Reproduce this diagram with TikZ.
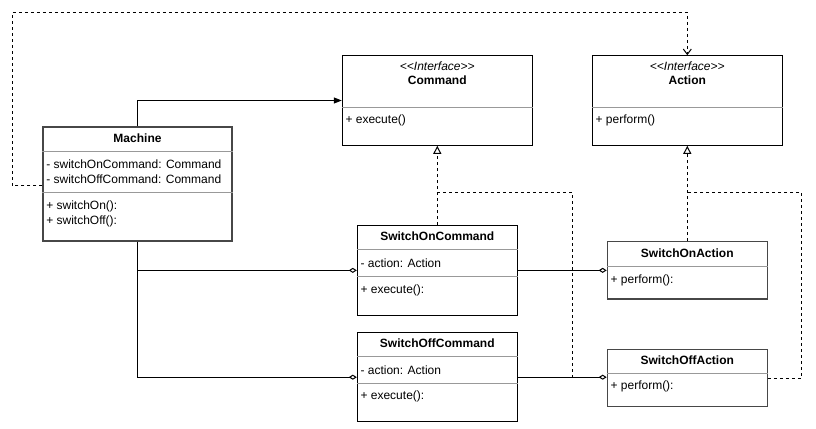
\documentclass[tikz,border=0pt]{standalone}
\usepackage{fontspec}
\setmainfont{Liberation Sans}
\usetikzlibrary{arrows.meta,fit}
\begin{document}
\begin{tikzpicture}[x=0.75pt,y=-0.75pt,
  box/.style={draw=black, line width=0.75pt, inner sep=0pt, fill=white},
  boxg/.style={draw=black!72, line width=0.95pt, inner sep=0pt, fill=white},
  div/.style={draw=black!40, line width=0.6pt},
  t/.style={font=\fontsize{9}{10}\selectfont, inner sep=0pt, anchor=west},
  tt/.style={font=\fontsize{9}{10}\selectfont\bfseries, inner sep=0pt},
  ti/.style={font=\fontsize{9}{10}\selectfont\itshape, inner sep=0pt},
  con/.style={line width=0.75pt},
  dep/.style={line width=0.75pt, dash pattern=on 2.25pt off 2.25pt},
  agg/.style={con, -{Diamond[open, length=6pt, width=3.8pt]}},
  inh/.style={dep, -{Triangle[open, length=6pt, width=6pt]}},
  use/.style={dep, -{Straight Barb[length=4pt, width=6pt]}},
  assoc/.style={con, -{Triangle[length=6pt, width=4.5pt]}}
]
\fill[white] (0,0) rectangle (816,428);
\useasboundingbox (0,0) rectangle (816,428);

% boxes
\node[boxg, fit={(43,127) (232,241)}] (machine) {};
\node[box, fit={(342.3,55.7) (532.3,145.3)}] (command) {};
\node[box, fit={(592.3,55.7) (782.3,145.3)}] (action) {};
\node[box, fit={(357.3,225.7) (517.3,315)}] (soncmd) {};
\node[box, fit={(357.3,332.7) (517.3,421.7)}] (soffcmd) {};
\node[boxg, fit={(607.3,241.7) (767.3,299)}] (sonact) {};
\node[boxg, fit={(607.3,349.3) (767.3,406.7)}] (soffact) {};

% dividers
\draw[div] (machine.west |- 0,151) -- (machine.east |- 0,151);
\draw[div] (machine.west |- 0,192.3) -- (machine.east |- 0,192.3);
\draw[div] (command.west |- 0,107.3) -- (command.east |- 0,107.3);
\draw[div] (action.west |- 0,107.3) -- (action.east |- 0,107.3);
\draw[div] (soncmd.west |- 0,249.3) -- (soncmd.east |- 0,249.3);
\draw[div] (soncmd.west |- 0,276.7) -- (soncmd.east |- 0,276.7);
\draw[div] (soffcmd.west |- 0,356.7) -- (soffcmd.east |- 0,356.7);
\draw[div] (soffcmd.west |- 0,383.3) -- (soffcmd.east |- 0,383.3);
\draw[div] (sonact.west |- 0,266.7) -- (sonact.east |- 0,266.7);
\draw[div] (soffact.west |- 0,373.3) -- (soffact.east |- 0,373.3);

% texts
\node[tt] (machineT) at (137.5,138.5) {Machine};
\node[t] (machineA1) at (46,164.3) {- switchOnCommand: Command};
\node[t] (machineA2) at (46,179) {- switchOffCommand: Command};
\node[t] (machineM1) at (46,206.7) {+ switchOn():};
\node[t] (machineM2) at (46,221.7) {+ switchOff():};

\node[ti] (commandS) at (437.3,66.7) {<\kern0pt<Interface>\kern0pt>};
\node[tt] (commandT) at (437.3,80) {Command};
\node[t] (commandM) at (345.3,120.7) {+ execute()};

\node[ti] (actionS) at (687.3,66.7) {<\kern0pt<Interface>\kern0pt>};
\node[tt] (actionT) at (687.3,80) {Action};
\node[t] (actionM) at (595.3,120.7) {+ perform()};

\node[tt] (soncmdT) at (437.3,236.5) {SwitchOnCommand};
\node[t] (soncmdA) at (360.3,263) {- action: Action};
\node[t] (soncmdM) at (360.3,290) {+ execute():};

\node[tt] (soffcmdT) at (437.3,343.5) {SwitchOffCommand};
\node[t] (soffcmdA) at (360.3,370) {- action: Action};
\node[t] (soffcmdM) at (360.3,396.7) {+ execute():};

\node[tt] (sonactT) at (687.3,253.5) {SwitchOnAction};
\node[t] (sonactM) at (610.3,280) {+ perform():};

\node[tt] (soffactT) at (687.3,360.5) {SwitchOffAction};
\node[t] (soffactM) at (610.3,386.7) {+ perform():};

% corner coordinates
\coordinate (c1) at (12.3,12.3);
\coordinate (c2) at (572.3,192.3);
\coordinate (c3) at (801.7,192.3);

% connectors
\draw[assoc] (machine.north) |- (command.west);
\draw[use] (machine.west |- 0,185.7) -| (c1) -| (action.north);
\draw[inh] (soncmd.north) -- (command.south);
\draw[dep] (soffcmd.east) -| (c2) -- (c2 -| command.south);
\draw[inh] (sonact.north) -- (action.south);
\draw[dep] (soffact.east) -| (c3) -- (c3 -| action.south);
\draw[agg] (machine.south) |- (soncmd.west);
\draw[agg] (machine.south) |- (soffcmd.west);
\draw[agg] (soncmd.east) -- (sonact.west);
\draw[agg] (soffcmd.east) -- (soffcmd.east -| soffact.west);
\end{tikzpicture}
\end{document}
